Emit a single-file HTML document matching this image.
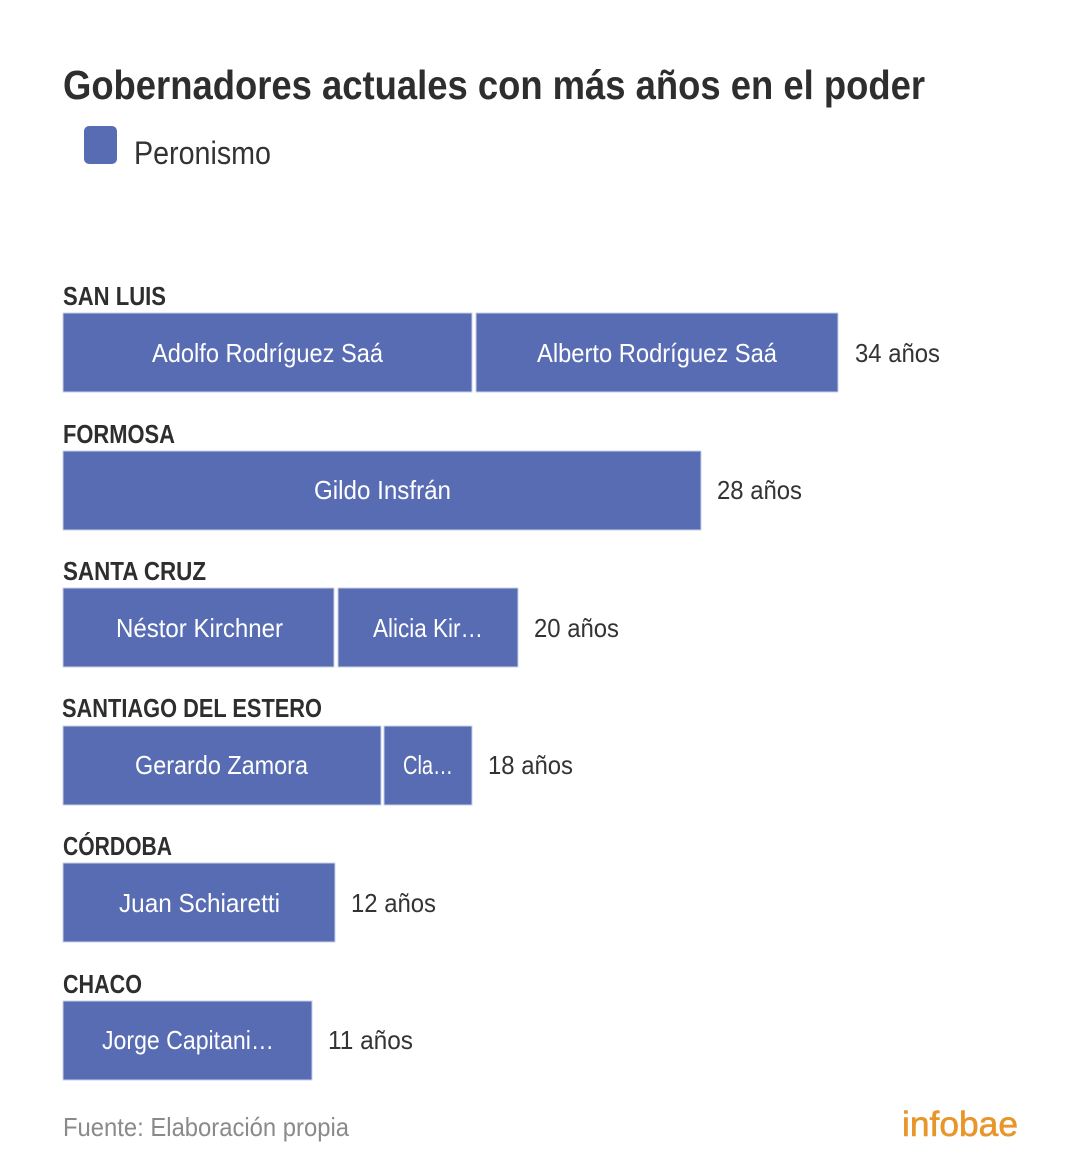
<!DOCTYPE html>
<html>
<head>
<meta charset="utf-8">
<style>
  html,body{margin:0;padding:0;background:#fff;}
  svg{display:block;}
  text{font-family:"Liberation Sans",sans-serif;}
</style>
</head>
<body>
<svg width="1080" height="1161" viewBox="0 0 1080 1161" xmlns="http://www.w3.org/2000/svg">
  <rect x="0" y="0" width="1080" height="1161" fill="#ffffff"/>

  <!-- Title -->
  <text x="63" y="99" font-size="41" font-weight="bold" fill="#2e2e2e" textLength="862" lengthAdjust="spacingAndGlyphs">Gobernadores actuales con más años en el poder</text>

  <!-- Legend -->
  <rect x="84" y="126" width="33" height="38" rx="5" ry="5" fill="#586cb3"/>
  <text x="134" y="164" font-size="32" fill="#333333" textLength="137" lengthAdjust="spacingAndGlyphs">Peronismo</text>

  <g font-size="26">
    <!-- SAN LUIS -->
    <text x="63" y="305" font-weight="bold" fill="#2e2e2e" textLength="103" lengthAdjust="spacingAndGlyphs">SAN LUIS</text>
    <rect x="63" y="313" width="409" height="79" fill="#586cb3" stroke="#c9d1ea" stroke-width="1"/>
    <rect x="476" y="313" width="362" height="79" fill="#586cb3" stroke="#c9d1ea" stroke-width="1"/>
    <text x="152" y="362" fill="#ffffff" textLength="231" lengthAdjust="spacingAndGlyphs">Adolfo Rodríguez Saá</text>
    <text x="537" y="362" fill="#ffffff" textLength="240" lengthAdjust="spacingAndGlyphs">Alberto Rodríguez Saá</text>
    <text x="855" y="362" fill="#333333" textLength="85" lengthAdjust="spacingAndGlyphs">34 años</text>

    <!-- FORMOSA -->
    <text x="63" y="443" font-weight="bold" fill="#2e2e2e" textLength="112" lengthAdjust="spacingAndGlyphs">FORMOSA</text>
    <rect x="63" y="451" width="638" height="79" fill="#586cb3" stroke="#c9d1ea" stroke-width="1"/>
    <text x="314" y="499" fill="#ffffff" textLength="137" lengthAdjust="spacingAndGlyphs">Gildo Insfrán</text>
    <text x="717" y="499" fill="#333333" textLength="85" lengthAdjust="spacingAndGlyphs">28 años</text>

    <!-- SANTA CRUZ -->
    <text x="63" y="580" font-weight="bold" fill="#2e2e2e" textLength="143" lengthAdjust="spacingAndGlyphs">SANTA CRUZ</text>
    <rect x="63" y="588" width="271" height="79" fill="#586cb3" stroke="#c9d1ea" stroke-width="1"/>
    <rect x="338" y="588" width="180" height="79" fill="#586cb3" stroke="#c9d1ea" stroke-width="1"/>
    <text x="116" y="637" fill="#ffffff" textLength="167" lengthAdjust="spacingAndGlyphs">Néstor Kirchner</text>
    <text x="373" y="637" fill="#ffffff" textLength="110" lengthAdjust="spacingAndGlyphs">Alicia Kir…</text>
    <text x="534" y="637" fill="#333333" textLength="85" lengthAdjust="spacingAndGlyphs">20 años</text>

    <!-- SANTIAGO DEL ESTERO -->
    <text x="62" y="717" font-weight="bold" fill="#2e2e2e" textLength="260" lengthAdjust="spacingAndGlyphs">SANTIAGO DEL ESTERO</text>
    <rect x="63" y="726" width="318" height="79" fill="#586cb3" stroke="#c9d1ea" stroke-width="1"/>
    <rect x="384" y="726" width="88" height="79" fill="#586cb3" stroke="#c9d1ea" stroke-width="1"/>
    <text x="135" y="774" fill="#ffffff" textLength="173" lengthAdjust="spacingAndGlyphs">Gerardo Zamora</text>
    <text x="403" y="774" fill="#ffffff" textLength="50" lengthAdjust="spacingAndGlyphs">Cla…</text>
    <text x="488" y="774" fill="#333333" textLength="85" lengthAdjust="spacingAndGlyphs">18 años</text>

    <!-- CÓRDOBA -->
    <text x="63" y="855" font-weight="bold" fill="#2e2e2e" textLength="109" lengthAdjust="spacingAndGlyphs">CÓRDOBA</text>
    <rect x="63" y="863" width="272" height="79" fill="#586cb3" stroke="#c9d1ea" stroke-width="1"/>
    <text x="119" y="912" fill="#ffffff" textLength="161" lengthAdjust="spacingAndGlyphs">Juan Schiaretti</text>
    <text x="351" y="912" fill="#333333" textLength="85" lengthAdjust="spacingAndGlyphs">12 años</text>

    <!-- CHACO -->
    <text x="63" y="993" font-weight="bold" fill="#2e2e2e" textLength="79" lengthAdjust="spacingAndGlyphs">CHACO</text>
    <rect x="63" y="1001" width="249" height="79" fill="#586cb3" stroke="#c9d1ea" stroke-width="1"/>
    <text x="102" y="1049" fill="#ffffff" textLength="172" lengthAdjust="spacingAndGlyphs">Jorge Capitani…</text>
    <text x="328" y="1049" fill="#333333" textLength="85" lengthAdjust="spacingAndGlyphs">11 años</text>

    <!-- Footer -->
    <text x="63" y="1136" fill="#8a8a8a" textLength="286" lengthAdjust="spacingAndGlyphs">Fuente: Elaboración propia</text>
  </g>

  <!-- infobae logo -->
  <text x="902" y="1136" font-size="35" fill="#e8962a" stroke="#e8962a" stroke-width="0.6" textLength="116" lengthAdjust="spacingAndGlyphs">infobae</text>
</svg>
</body>
</html>
